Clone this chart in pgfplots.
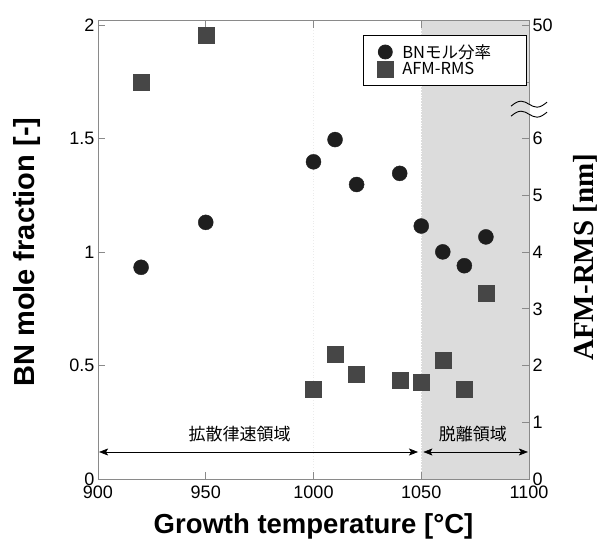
\documentclass[border=0pt]{standalone}
\usepackage{fontspec}
\setmainfont{Liberation Sans}
\newfontfamily\timesfont{Liberation Serif}
\newfontfamily\jpfont{Noto Sans CJK JP}
\usepackage{pgfplots}
\usepackage{pgfplotstable}
\pgfplotsset{compat=1.18}
\usetikzlibrary{arrows.meta}

\definecolor{shadegray}{HTML}{DCDCDC}
\definecolor{framegray}{HTML}{8A8A8A}
\definecolor{dotcol}{HTML}{1E1E1E}
\definecolor{sqcol}{HTML}{464646}

% BN mole fraction (left axis)
\pgfplotstableread{
T frac
920  0.933
950  1.131
1000 1.398
1010 1.496
1020 1.298
1040 1.347
1050 1.115
1060 1.001
1070 0.940
1080 1.067
}\fractable

% AFM-RMS (right axis); the two points above the break are given
% in the display units of the compressed upper segment
\pgfplotstableread{
T rms
920  7.00
950  7.83
1000 1.59
1010 2.20
1020 1.85
1040 1.74
1050 1.70
1060 2.10
1070 1.59
1080 3.28
}\rmstable

\pgfplotsset{
  common/.style={
    scale only axis, width=431pt, height=458.3pt,
    at={(0,0)}, anchor=south west,
    xmin=900, xmax=1100,
    tick align=inside, major tick length=7pt,
    axis line style={framegray, line width=0.8pt},
    tick style={framegray, line width=0.8pt},
    /pgf/number format/assume math mode=true,
    /pgf/number format/1000 sep={},
    tick label style={font=\fontsize{18}{18}\selectfont},
  }
}

\begin{document}
\begin{tikzpicture}
\path[use as bounding box] (-98pt,-61pt) rectangle (502pt,479pt);

\begin{axis}[
  common,
  axis on top,
  ymin=0, ymax=2.02,
  xtick={900,950,...,1100},
  ytick={0,0.5,...,2},
  ytick pos=left, xtick pos=both,
  xticklabel style={yshift=-3pt},
  xlabel={Growth temperature [°C]},
  ylabel={BN mole fraction [-]},
  xlabel style={font=\fontsize{27.5}{27.5}\selectfont\bfseries,
    at={(axis description cs:0.5,-0.118)}, anchor=base},
  ylabel style={font=\fontsize{29}{29}\selectfont\bfseries,
    at={(axis description cs:-0.165,0.495)}, anchor=center},
]
  % desorption-limited region
  \fill[shadegray] (axis cs:1050,0) rectangle (axis cs:1100,2.02);
  \draw[white, dotted, line width=0.8pt] (axis cs:1050,0) -- (axis cs:1050,2.02);
  \draw[black!8, dotted, line width=0.8pt] (axis cs:1000,0) -- (axis cs:1000,2.02);
  % region arrows and names
  \draw[{Stealth[length=9pt,width=7pt,inset=2pt]}-{Stealth[length=9pt,width=7pt,inset=2pt]}, line width=0.6pt]
    (axis cs:900.5,0.119) -- (axis cs:1048.5,0.119);
  \draw[{Stealth[length=9pt,width=7pt,inset=2pt]}-{Stealth[length=9pt,width=7pt,inset=2pt]}, line width=0.6pt]
    (axis cs:1051,0.119) -- (axis cs:1099.5,0.119);
  \node[font=\jpfont\fontsize{17}{17}\selectfont] at (axis cs:965.7,0.198) {拡散律速領域};
  \node[font=\jpfont\fontsize{17}{17}\selectfont] at (axis cs:1074,0.198) {脱離領域};
  \addplot[only marks, mark=*, mark size=7.5pt, mark options={fill=dotcol, draw=dotcol}]
    table[x=T, y=frac] {\fractable};
  \draw[black, line width=1.2pt] (rel axis cs:0,1) -- (rel axis cs:1,1);
\end{axis}

\begin{axis}[
  common,
  clip=false,
  ymin=0, ymax=8.08,
  axis y line*=right, axis x line=none,
  ytick={0,1,...,8},
  yticklabels={0,1,2,3,4,5,6,,50},
  ylabel={AFM-RMS [nm]},
  ylabel style={font=\timesfont\fontsize{29}{29}\selectfont\bfseries,
    at={(axis description cs:1.13,0.484)}, anchor=center},
  legend style={at={(axis description cs:0.9947,0.969)}, anchor=north east,
    draw=black, line width=0.8pt, font=\jpfont\fontsize{16.5}{18}\selectfont,
    inner xsep=14pt, inner ysep=7pt, row sep=-1pt, column sep=7pt},
  legend cell align=left,
]
  \addlegendimage{only marks, mark=*, mark size=7pt, mark options={fill=dotcol, draw=dotcol}}
  \addlegendentry{\makebox[108pt][l]{BNモル分率}}
  \addplot[only marks, mark=square*, mark size=8pt, mark options={fill=sqcol, draw=sqcol}]
    table[x=T, y=rms] {\rmstable};
  \addlegendentry{\makebox[108pt][l]{AFM-RMS}}
  \coordinate (brk) at (axis cs:1100,6.52);
\end{axis}

% axis break on the right scale
\begin{scope}[shift={(brk)}]
  \fill[shadegray] (-1pt,-5pt) rectangle (0.5pt,5pt);
  \draw[black, line width=0.9pt] (-18pt,3pt) sin (-8pt,8pt) cos (0pt,5pt) sin (8pt,2pt) cos (18pt,7pt);
  \draw[black, line width=0.9pt] (-18pt,-7pt) sin (-8pt,-2pt) cos (0pt,-5pt) sin (8pt,-8pt) cos (18pt,-3pt);
\end{scope}
\end{tikzpicture}
\end{document}
